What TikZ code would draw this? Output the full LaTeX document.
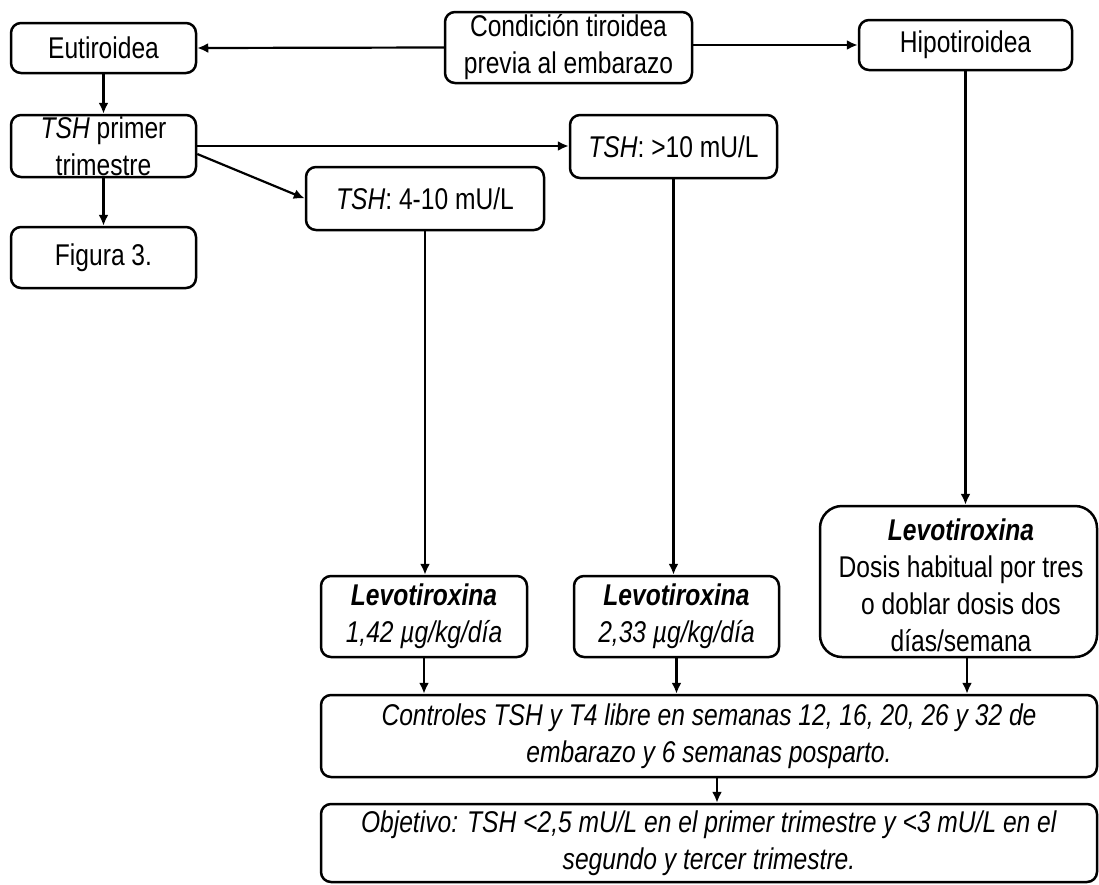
\documentclass[tikz,border=0pt]{standalone}
\usepackage{fontspec}
\setmainfont[FakeStretch=0.82]{Liberation Sans}
\usetikzlibrary{arrows.meta,calc}
\begin{document}
\begin{tikzpicture}[x=1pt,y=-1pt,
  box/.style={draw, rounded corners=10pt, line width=2.5pt, align=center, inner sep=0pt,
    font=\fontsize{30}{37}\selectfont},
  txt/.style={align=center, inner sep=0pt, font=\fontsize{30}{37}\selectfont},
  arr/.style={line width=2.2pt, -{Latex[length=11pt,width=10pt]}}]
\useasboundingbox (0,0) rectangle (1099,884);
\node[box, minimum width=185pt, minimum height=50pt] (Eut) at (103.5,48) {Eutiroidea};
\node[box, minimum width=247pt, minimum height=71pt] (Cond) at (568.5,47.5) {Condición tiroidea\\previa al embarazo};
\node[box, minimum width=213pt, minimum height=50pt] (Hipo) at (965.5,45) {Hipotiroidea};
\node[box, minimum width=185pt, minimum height=62pt] (TSHp) at (103.5,146) {\textit{TSH} primer\\trimestre};
\node[box, minimum width=185pt, minimum height=61pt] (Fig) at (103.5,257.5) {Figura 3.};
\node[box, minimum width=238pt, minimum height=63pt] (T410) at (425,198.5) {\textit{TSH}: 4-10 mU/L};
\node[box, minimum width=207pt, minimum height=63pt] (T10) at (673.5,146.5) {\textit{TSH}: >10 mU/L};
\node[box, minimum width=206pt, minimum height=81pt] (L1) at (424,616.5) {\textbf{\textit{Levotiroxina}}\\\textit{1,42 µg/kg/día}};
\node[box, minimum width=205pt, minimum height=81pt] (L2) at (676.5,616.5) {\textbf{\textit{Levotiroxina}}\\\textit{2,33 µg/kg/día}};
\node[box, rounded corners=22pt, minimum width=277pt, minimum height=151pt] (L3) at (958.5,581.5) {};
\node[txt] (L3t) at (961,585) {\textbf{\textit{Levotiroxina}}\\Dosis habitual por tres\\o doblar dosis dos\\días/semana};
\node[box, minimum width=776pt, minimum height=82pt] (Ctl) at (709,736) {\textit{Controles TSH y T4 libre en semanas 12, 16, 20, 26 y 32 de}\\\textit{embarazo y 6 semanas posparto.}};
\node[box, minimum width=776pt, minimum height=78pt] (Obj) at (709,843) {\textit{Objetivo: TSH <2,5 mU/L en el primer trimestre y <3 mU/L en el}\\\textit{segundo y tercer trimestre.}};
\draw[arr] (Cond.west) -- (Eut.east);
\draw[arr] (Cond.east |- Hipo.west) -- (Hipo.west);
\draw[arr] (Eut.south) -- (TSHp.north);
\draw[arr] (TSHp.south) -- (Fig.north);
\draw[arr] (TSHp.east) -- (TSHp.east -| T10.west);
\draw[arr] ($(TSHp.east)+(0,8)$) -- (T410.west);
\draw[arr] (T410.south) -- (T410.south |- L1.north);
\draw[arr] (T10.south) -- (T10.south |- L2.north);
\draw[arr] (Hipo.south) -- (Hipo.south |- L3.north);
\draw[arr] (L1.south) -- (L1.south |- Ctl.north);
\draw[arr] (L2.south) -- (L2.south |- Ctl.north);
\coordinate (lx) at (967,0);
\draw[arr] (lx |- L3.south) -- (lx |- Ctl.north);
\coordinate (cx) at (717,0);
\draw[arr] (cx |- Ctl.south) -- (cx |- Obj.north);
\end{tikzpicture}
\end{document}
